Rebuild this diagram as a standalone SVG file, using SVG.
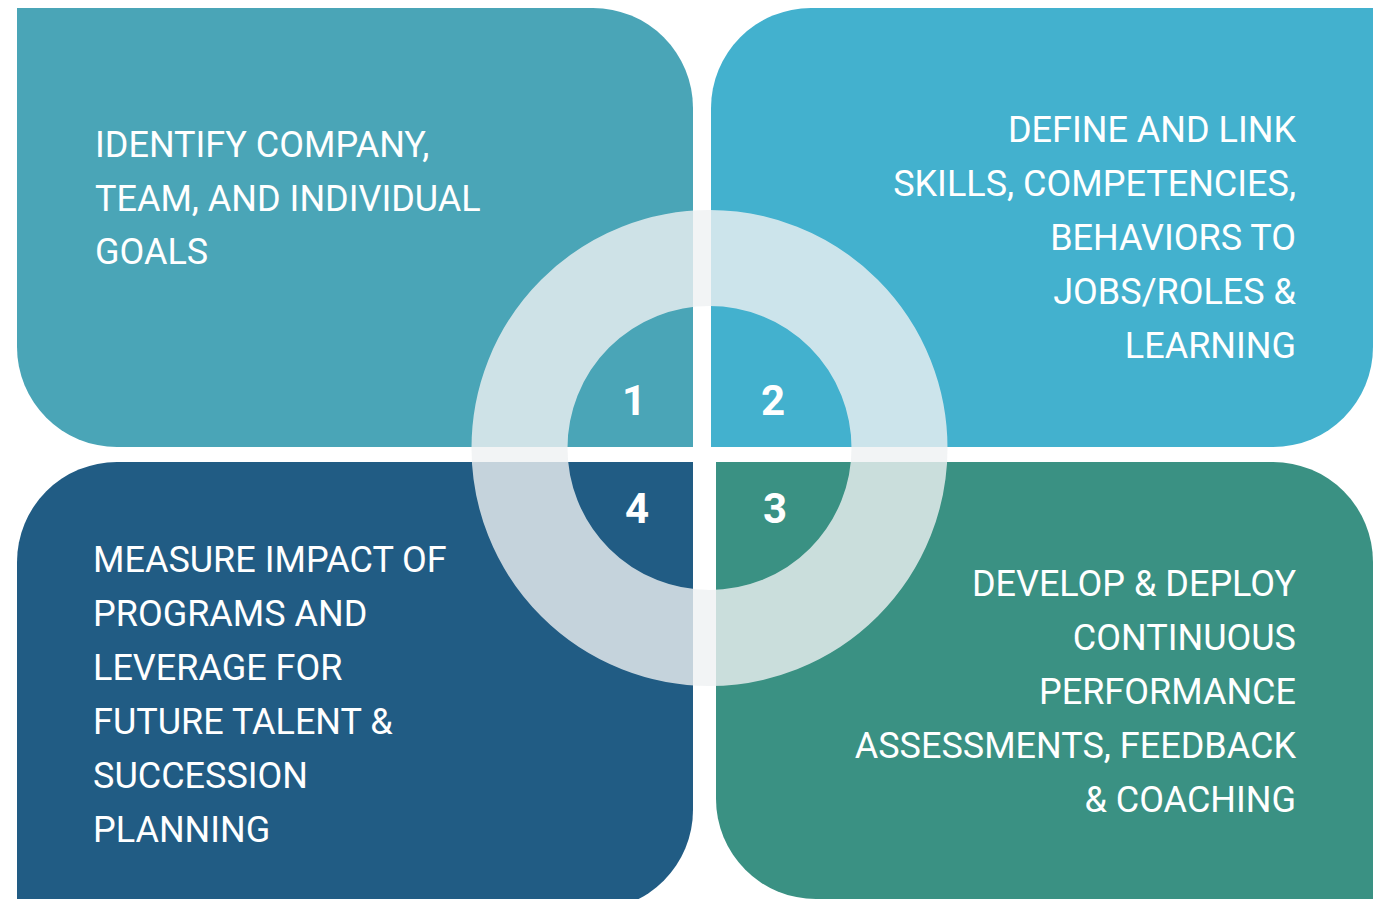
<svg xmlns="http://www.w3.org/2000/svg" width="1373" height="899" viewBox="0 0 1373 899">
  <style>
    .label { font-family: Roboto, "Liberation Sans", sans-serif; font-size: 36px; fill: #ffffff; }
    .right { text-anchor: end; }
    .num { font-family: Roboto, "Liberation Sans", sans-serif; font-size: 42px; font-weight: 700; fill: #ffffff; text-anchor: middle; }
  </style>
  <rect width="1373" height="899" fill="#ffffff"/>

  <!-- quadrant 1: goals -->
  <g id="q1">
    <path d="M17,8 H593 A100,100 0 0 1 693,108 V447 H117 A100,100 0 0 1 17,347 Z" fill="#4aa5b7"/>
    <text class="label" x="95" y="157">IDENTIFY COMPANY,</text>
    <text class="label" x="95" y="211">TEAM, AND INDIVIDUAL</text>
    <text class="label" x="95" y="264">GOALS</text>
  </g>

  <!-- quadrant 2: skills and roles -->
  <g id="q2">
    <path d="M811,8 H1373 V347 A100,100 0 0 1 1273,447 H711 V108 A100,100 0 0 1 811,8 Z" fill="#43b1ce"/>
    <text class="label right" x="1296" y="142">DEFINE AND LINK</text>
    <text class="label right" x="1296" y="196">SKILLS, COMPETENCIES,</text>
    <text class="label right" x="1296" y="250">BEHAVIORS TO</text>
    <text class="label right" x="1296" y="304">JOBS/ROLES &amp;</text>
    <text class="label right" x="1296" y="358">LEARNING</text>
  </g>

  <!-- quadrant 3: performance -->
  <g id="q3">
    <path d="M716,462 H1273 A100,100 0 0 1 1373,562 V899 H816 A100,100 0 0 1 716,799 Z" fill="#3a9183"/>
    <text class="label right" x="1296" y="596">DEVELOP &amp; DEPLOY</text>
    <text class="label right" x="1296" y="650">CONTINUOUS</text>
    <text class="label right" x="1296" y="704">PERFORMANCE</text>
    <text class="label right" x="1296" y="758">ASSESSMENTS, FEEDBACK</text>
    <text class="label right" x="1296" y="812">&amp; COACHING</text>
  </g>

  <!-- quadrant 4: impact -->
  <g id="q4">
    <path d="M117,462 H693 V810 A100,100 0 0 1 593,910 H17 V562 A100,100 0 0 1 117,462 Z" fill="#215c84"/>
    <text class="label" x="93" y="572">MEASURE IMPACT OF</text>
    <text class="label" x="93" y="626">PROGRAMS AND</text>
    <text class="label" x="93" y="680">LEVERAGE FOR</text>
    <text class="label" x="93" y="734">FUTURE TALENT &amp;</text>
    <text class="label" x="93" y="788">SUCCESSION</text>
    <text class="label" x="93" y="842">PLANNING</text>
  </g>

  <!-- translucent ring over the centre -->
  <g id="ring">
    <circle cx="709.5" cy="448" r="190" fill="none" stroke="#eff1f3" stroke-opacity="0.8" stroke-width="96"/>
  </g>

  <!-- step numbers -->
  <g id="numbers">
    <text class="num" x="634" y="415">1</text>
    <text class="num" x="773" y="415">2</text>
    <text class="num" x="775" y="523">3</text>
    <text class="num" x="637" y="523">4</text>
  </g>
</svg>
